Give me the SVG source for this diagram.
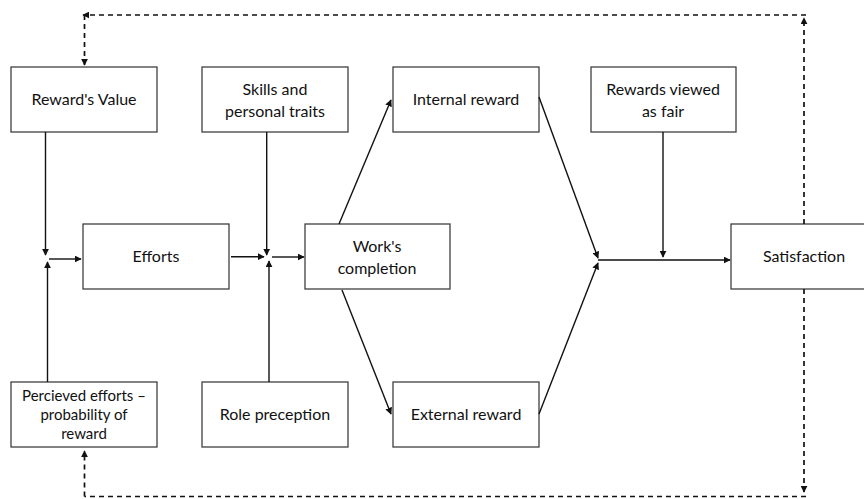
<svg xmlns="http://www.w3.org/2000/svg" width="864" height="499" viewBox="0 0 864 499">
<style>
.box{fill:#fff;stroke:#404040;stroke-width:1.3}
.t{font-family:Lato,"Open Sans","Liberation Sans",sans-serif;font-size:16px;fill:#111;text-anchor:middle}
.s{font-size:15px}
.c{fill:none;stroke:#111;stroke-width:1.4}
.d{fill:none;stroke:#111;stroke-width:1.7;stroke-dasharray:5 4}
</style>
<defs>
<marker id="a" viewBox="0 0 10 10" refX="9" refY="5" markerWidth="7" markerHeight="7" orient="auto" markerUnits="userSpaceOnUse"><path d="M0,0 L10,5 L0,10 z" fill="#111"/></marker>
</defs>
<g id="reward-value"><rect class="box" x="11" y="67" width="146" height="65"/><text class="t" x="84" y="105">Reward's Value</text></g>
<g id="skills"><rect class="box" x="202" y="67" width="146" height="65"/><text class="t" x="275" y="95">Skills and</text><text class="t" x="275" y="117">personal traits</text></g>
<g id="internal"><rect class="box" x="393" y="67" width="146" height="65"/><text class="t" x="466" y="105">Internal reward</text></g>
<g id="fair"><rect class="box" x="591" y="67" width="145" height="65"/><text class="t" x="663" y="95">Rewards viewed</text><text class="t" x="663" y="117">as fair</text></g>
<g id="efforts"><rect class="box" x="83" y="224" width="146" height="65"/><text class="t" x="156" y="262">Efforts</text></g>
<g id="work"><rect class="box" x="305" y="224" width="145" height="65"/><text class="t" x="377" y="252">Work's</text><text class="t" x="377" y="274">completion</text></g>
<g id="satisfaction"><rect class="box" x="731" y="224" width="146" height="65"/><text class="t" x="804" y="262">Satisfaction</text></g>
<g id="perceived"><rect class="box" x="11" y="382" width="146" height="65"/><text class="t s" x="84" y="401">Percieved efforts –</text><text class="t s" x="84" y="420">probability of</text><text class="t s" x="84" y="439">reward</text></g>
<g id="role"><rect class="box" x="202" y="382" width="146" height="65"/><text class="t" x="275" y="420">Role preception</text></g>
<g id="external"><rect class="box" x="393" y="382" width="146" height="65"/><text class="t" x="466" y="420">External reward</text></g>
<g id="connectors">
<path class="c" d="M45.5,132 V255" marker-end="url(#a)"/>
<path class="c" d="M47.5,382 V262" marker-end="url(#a)"/>
<path class="c" d="M49,259 H81" marker-end="url(#a)"/>
<path class="c" d="M266.7,132 V255" marker-end="url(#a)"/>
<path class="c" d="M269,382 V261" marker-end="url(#a)"/>
<path class="c" d="M231,256.7 H264" marker-end="url(#a)"/>
<path class="c" d="M272,257 H304" marker-end="url(#a)"/>
<path class="c" d="M339,224 L391,100" marker-end="url(#a)"/>
<path class="c" d="M342,290 L391,414" marker-end="url(#a)"/>
<path class="c" d="M539,97 L598,258" marker-end="url(#a)"/>
<path class="c" d="M539,414 L598,263" marker-end="url(#a)"/>
<path class="c" d="M598,260 H730" marker-end="url(#a)"/>
<path class="c" d="M663,132 V257" marker-end="url(#a)"/>
<path class="d" d="M804,224 V18" marker-end="url(#a)"/>
<path class="d" d="M806,15 H83" marker-end="url(#a)"/>
<path class="d" d="M84.5,15 V65" marker-end="url(#a)"/>
<path class="d" d="M804,289 V492" marker-end="url(#a)"/>
<path class="d" d="M806,496.5 H84.5"/>
<path class="d" d="M84.5,496.5 V451" marker-end="url(#a)"/>
</g>
</svg>
